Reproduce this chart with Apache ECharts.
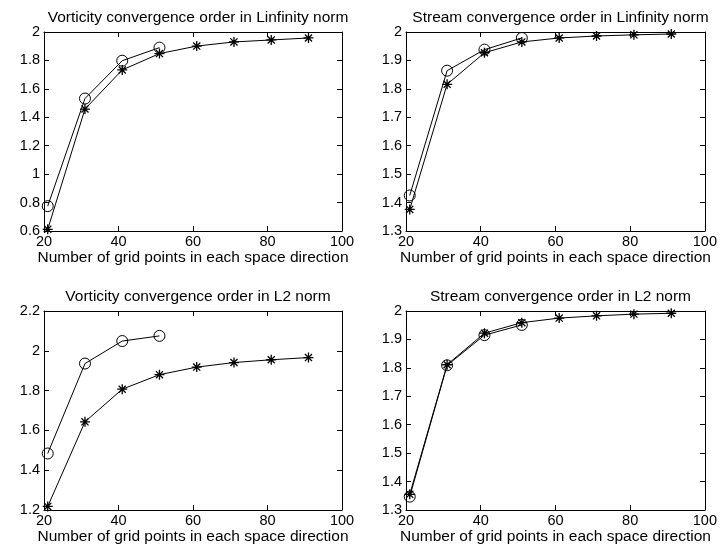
<!DOCTYPE html>
<html>
<head>
<meta charset="utf-8">
<script src="https://cdn.jsdelivr.net/npm/echarts@6/dist/echarts.min.js"></script>
<style>
html,body{margin:0;padding:0;background:#fff;}
#chart{width:720px;height:546px;}
</style>
</head>
<body>
<div id="chart"></div>
<script>
// ---- data ----
const xCircle = [21, 31, 41, 51];
const xStar = [21, 31, 41, 51, 61, 71, 81, 91];

const titles = [
  'Vorticity convergence order in Linfinity norm',
  'Stream convergence order in Linfinity norm',
  'Vorticity convergence order in L2 norm',
  'Stream convergence order in L2 norm'
];
const xLabel = 'Number of grid points in each space direction';

const vortLinfCircle = [0.775, 1.532, 1.798, 1.890];
const vortLinfStar   = [0.612, 1.458, 1.733, 1.848, 1.901, 1.930, 1.944, 1.958];
const strLinfCircle  = [1.425, 1.864, 1.938, 1.979];
const strLinfStar    = [1.376, 1.816, 1.927, 1.965, 1.979, 1.986, 1.990, 1.993];
const vortL2Circle   = [1.484, 1.936, 2.049, 2.075];
const vortL2Star     = [1.218, 1.643, 1.807, 1.880, 1.918, 1.941, 1.955, 1.966];
const strL2Circle    = [1.347, 1.809, 1.915, 1.951];
const strL2Star      = [1.355, 1.811, 1.922, 1.959, 1.975, 1.983, 1.989, 1.992];

const xTicks = {min: 20, max: 100, interval: 20};
const yTicks = [
  {min: 0.6, max: 2, interval: 0.2},
  {min: 1.3, max: 2, interval: 0.1},
  {min: 1.2, max: 2.2, interval: 0.2},
  {min: 1.3, max: 2, interval: 0.1}
];
const circleSeries = [vortLinfCircle, strLinfCircle, vortL2Circle, strL2Circle];
const starSeries = [vortLinfStar, strLinfStar, vortL2Star, strL2Star];

// ---- layout ----
const grids = [
  {left: 44, top: 32, width: 298, height: 199},
  {left: 406, top: 32, width: 299, height: 199},
  {left: 44, top: 311, width: 298, height: 199},
  {left: 406, top: 311, width: 299, height: 199}
];

const FONT = 'Liberation Sans, Arial, Helvetica, sans-serif';
const starPath = 'path://M0,-10L0,10M-10,0L10,0M-7.07,-7.07L7.07,7.07M-7.07,7.07L7.07,-7.07';

const xAxes = [], yAxes = [], series = [], titleArr = [];
const fmt = v => String(+(+v).toFixed(2));

grids.forEach((g, i) => {
  const base = {
    gridIndex: i,
    type: 'value',
    axisLine: {show: true, onZero: false, lineStyle: {color: '#000', width: 1}},
    axisTick: {show: true, inside: true, length: 5, lineStyle: {color: '#000', width: 1}},
    splitLine: {show: false}
  };
  xAxes.push(Object.assign({}, base, {
    position: 'bottom', min: xTicks.min, max: xTicks.max, interval: xTicks.interval,
    axisLabel: {show: true, color: '#000', fontSize: 14.5, fontFamily: FONT, margin: 3, formatter: fmt},
    name: xLabel, nameLocation: 'middle', nameGap: 12,
    nameTextStyle: {color: '#000', fontSize: 15.5, fontFamily: FONT, verticalAlign: 'top'}
  }));
  xAxes.push(Object.assign({}, base, {
    position: 'top', min: xTicks.min, max: xTicks.max, interval: xTicks.interval,
    axisLabel: {show: false}
  }));
  const yt = yTicks[i];
  yAxes.push(Object.assign({}, base, {
    position: 'left', min: yt.min, max: yt.max, interval: yt.interval,
    axisLabel: {show: true, color: '#000', fontSize: 14.5, fontFamily: FONT, margin: 4, formatter: fmt}
  }));
  yAxes.push(Object.assign({}, base, {
    position: 'right', min: yt.min, max: yt.max, interval: yt.interval,
    axisLabel: {show: false}
  }));
  const xi = i * 2, yi = i * 2;
  series.push({
    type: 'line', xAxisIndex: xi, yAxisIndex: yi,
    data: xCircle.map((x, k) => [x, circleSeries[i][k]]),
    symbol: 'circle', symbolSize: 11, showAllSymbol: true,
    lineStyle: {color: '#000', width: 1},
    itemStyle: {color: 'rgba(0,0,0,0)', borderColor: '#000', borderWidth: 1},
    animation: false, silent: true
  });
  series.push({
    type: 'line', xAxisIndex: xi, yAxisIndex: yi,
    data: xStar.map((x, k) => [x, starSeries[i][k]]),
    symbol: starPath, symbolSize: 10, showAllSymbol: true,
    lineStyle: {color: '#000', width: 1},
    itemStyle: {color: 'rgba(0,0,0,0)', borderColor: '#000', borderWidth: 1.3},
    animation: false, silent: true
  });
  titleArr.push({
    text: titles[i],
    left: g.left + g.width / 2, textAlign: 'center',
    top: g.top - 27,
    textStyle: {color: '#000', fontSize: 15.5, fontWeight: 'normal', fontFamily: FONT}
  });
});

const chart = echarts.init(document.getElementById('chart'), null, {renderer: 'canvas'});
chart.setOption({
  backgroundColor: '#fff',
  animation: false,
  title: titleArr,
  grid: grids,
  xAxis: xAxes,
  yAxis: yAxes,
  series: series
});
</script>
</body>
</html>
